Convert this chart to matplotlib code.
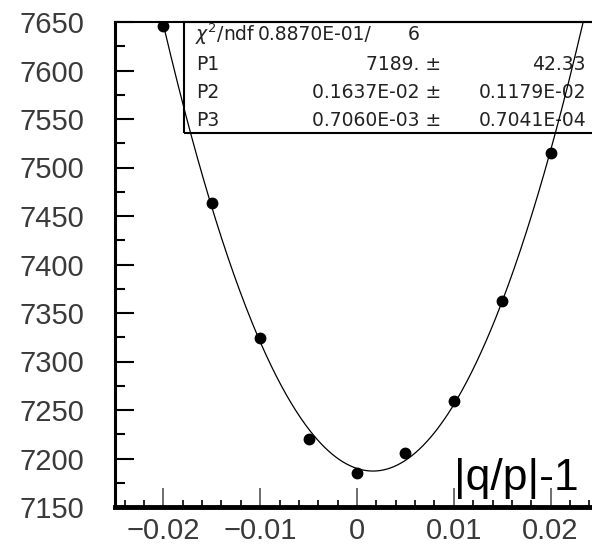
import numpy as np
import matplotlib
matplotlib.use("Agg")
import matplotlib.pyplot as plt
from matplotlib.patches import Rectangle
from matplotlib.ticker import MultipleLocator

qp = [-0.02, -0.015, -0.01, -0.005, 0.0, 0.005, 0.01, 0.015, 0.02]
counts = [7646, 7463, 7324, 7220, 7185, 7206, 7259, 7362, 7515]

# fit box text
chi2_label = "$\\chi^2$/ndf"
chi2_value = "0.8870E-01/"
ndf_value = "6"
par_names = ["P1", "P2", "P3"]
par_values = ["7189. \u00b1", "0.1637E-02 \u00b1", "0.7060E-03 \u00b1"]
par_errors = ["42.33", "0.1179E-02", "0.7041E-04"]

plt.rcParams["font.family"] = ["Liberation Sans", "DejaVu Sans"]

fig = plt.figure(figsize=(5.92, 5.44), dpi=100)
# axes run slightly past the right edge, like the cropped original
ax = fig.add_axes([115 / 592, 37 / 544, 484 / 592, 485 / 544])

# second order fit through the points
coef = np.polyfit(qp, counts, 2)
xs = np.linspace(-0.025, 0.025, 400)
ax.plot(xs, np.polyval(coef, xs), color="black", lw=0.9, zorder=7)
ax.plot(qp, counts, "o", color="black", ms=7.5, zorder=8)

ax.set_xlim(-0.025, 0.025)
ax.set_ylim(7150, 7650)
ax.xaxis.set_major_locator(MultipleLocator(0.01))
ax.xaxis.set_minor_locator(MultipleLocator(0.002))
ax.yaxis.set_major_locator(MultipleLocator(50))
ax.yaxis.set_minor_locator(MultipleLocator(25))
ax.set_xticks([-0.02, -0.01, 0, 0.01, 0.02])
ax.set_xticklabels(["\u22120.02", "\u22120.01", "0", "0.01", "0.02"])

ax.tick_params(which="both", direction="in", colors="black", labelcolor="#3a3a3a")
ax.tick_params(axis="y", which="major", length=14, width=1.5, pad=22, labelsize=21)
ax.tick_params(axis="y", which="minor", length=7, width=1.5)
ax.tick_params(axis="x", which="major", length=14, width=1.2, pad=7, labelsize=21,
               color="#555555")
ax.tick_params(axis="x", which="minor", length=5, width=1.2)

ax.spines["left"].set_linewidth(2.2)
ax.spines["bottom"].set_linewidth(3.5)
ax.spines["top"].set_linewidth(1.5)
ax.spines["right"].set_visible(False)


def px(x, y):
    return (x - 115) / 484, (507 - y) / 485


# stats box
x0, y0 = px(184, 133)
ax.add_patch(Rectangle((x0, y0), 1.2 - x0, 1 - y0, transform=ax.transAxes,
                       fill=False, edgecolor="black",
                       lw=1.5, clip_on=False, zorder=5))
box_font = dict(family="DejaVu Sans", fontsize=13.5, color="#222222",
                transform=ax.transAxes, va="center", zorder=6)
ax.text(*px(195, 34), chi2_label, ha="left", **box_font)
ax.text(*px(372, 34), chi2_value, ha="right", **box_font)
ax.text(*px(420, 34), ndf_value, ha="right", **box_font)
for i, (n, v, e) in enumerate(zip(par_names, par_values, par_errors)):
    yy = 64 + i * 28
    ax.text(*px(196, yy), n, ha="left", **box_font)
    ax.text(*px(441, yy), v, ha="right", **box_font)
    ax.text(*px(586, yy), e, ha="right", **box_font)

ax.text(*px(579, 490), "|q/p|-1", ha="right", va="baseline",
        fontsize=32, color="black", transform=ax.transAxes)

fig.savefig("out.png", dpi=100)
